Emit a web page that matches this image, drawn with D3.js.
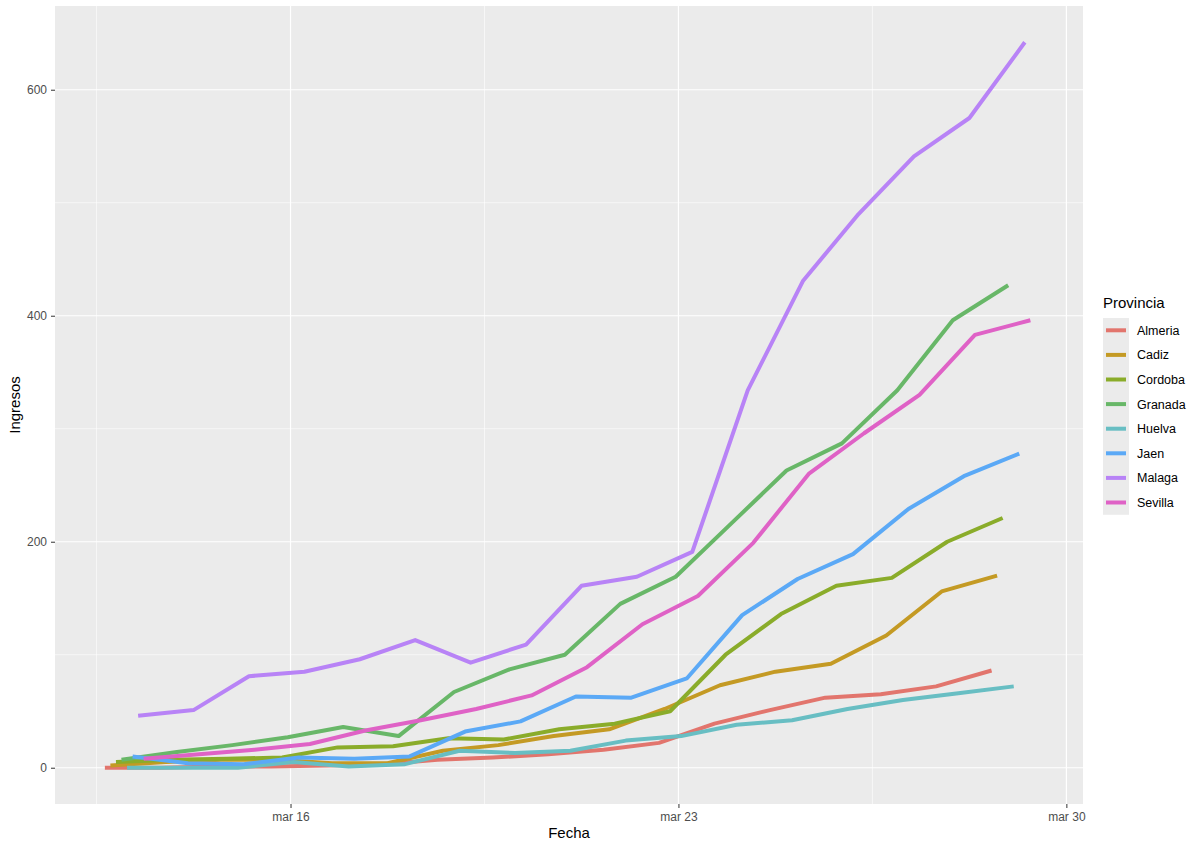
<!DOCTYPE html>
<html>
<head>
<meta charset="utf-8">
<script src="https://cdn.jsdelivr.net/npm/d3@7"></script>
<style>
  html, body { margin: 0; padding: 0; background: #fff; }
  svg { display: block; font-family: "Liberation Sans", Arial, Helvetica, sans-serif; }
</style>
</head>
<body>
<svg id="chart" width="1200" height="849"></svg>
<script>
// ---- data ----
const dates = ["2020-03-13","2020-03-14","2020-03-15","2020-03-16","2020-03-17","2020-03-18","2020-03-19","2020-03-20","2020-03-21","2020-03-22","2020-03-23","2020-03-24","2020-03-25","2020-03-26","2020-03-27","2020-03-28","2020-03-29"];
const provinces = ["Almeria","Cadiz","Cordoba","Granada","Huelva","Jaen","Malaga","Sevilla"];
const almeria = [0,0,1,1,2,3,7,9,12,16,22,39,51,62,65,72,86];
const cadiz   = [2,5,7,7,4,4,15,20,28,34,52,73,85,92,117,156,170];
const cordoba = [5,7,8,9,18,19,26,25,34,39,50,100,136,161,168,200,221];
const granada = [7,14,20,27,36,28,67,87,100,145,169,216,263,287,334,396,427];
const huelva  = [0,0,0,5,1,3,15,13,15,24,28,38,42,52,60,66,72];
const jaen    = [10,4,3,9,8,10,32,41,63,62,79,135,167,189,229,258,278];
const malaga  = [46,51,81,85,96,113,93,109,161,169,191,334,431,490,541,575,642];
const sevilla = [8,12,16,21,33,42,52,64,89,127,152,199,260,296,330,383,396];
const seriesValues = [almeria, cadiz, cordoba, granada, huelva, jaen, malaga, sevilla];
const colors = ["#E2756D","#C49A24","#8AAC2A","#68B768","#68BEC3","#5BA9F6","#B883F6","#DF62C6"];
const yTicks = [0, 200, 400, 600];
const yMinorTicks = [100, 300, 500];
const xTickDates = ["2020-03-16","2020-03-23","2020-03-30"];
const xTickLabels = ["mar 16","mar 23","mar 30"];
const xMinorDates = ["2020-03-12T12:00","2020-03-19T12:00","2020-03-26T12:00"];

// ---- layout ----
const P = { left: 55, right: 1083, top: 6, bottom: 804 };
const DAY = 86400000;
const parse = d3.utcParse("%Y-%m-%d");
const parseT = d3.utcParse("%Y-%m-%dT%H:%M");
const dateObjs = dates.map(parse);

const svg = d3.select("#chart");
svg.append("rect").attr("width", 1200).attr("height", 849).attr("fill", "#fff");

const x = d3.scaleUtc()
  .domain([new Date(+dateObjs[0] - 1.25 * DAY), new Date(+dateObjs[dateObjs.length - 1] + 1.3 * DAY)])
  .range([P.left, P.right]);
const maxV = d3.max(seriesValues, s => d3.max(s));
const pad = maxV * 0.05;
const y = d3.scaleLinear().domain([-pad, maxV + pad]).range([P.bottom, P.top]);

// panel
svg.append("rect").attr("x", P.left).attr("y", P.top)
  .attr("width", P.right - P.left).attr("height", P.bottom - P.top).attr("fill", "#EBEBEB");

const grid = svg.append("g");
// minor grid
grid.selectAll(".ymin").data(yMinorTicks).join("line")
  .attr("x1", P.left).attr("x2", P.right)
  .attr("y1", d => y(d)).attr("y2", d => y(d))
  .attr("stroke", "#fff").attr("stroke-width", 0.6);
grid.selectAll(".xmin").data(xMinorDates.map(parseT)).join("line")
  .attr("y1", P.top).attr("y2", P.bottom)
  .attr("x1", d => x(d)).attr("x2", d => x(d))
  .attr("stroke", "#fff").attr("stroke-width", 0.6);
// major grid
grid.selectAll(".ymaj").data(yTicks).join("line")
  .attr("x1", P.left).attr("x2", P.right)
  .attr("y1", d => y(d)).attr("y2", d => y(d))
  .attr("stroke", "#fff").attr("stroke-width", 1.2);
grid.selectAll(".xmaj").data(xTickDates.map(parse)).join("line")
  .attr("y1", P.top).attr("y2", P.bottom)
  .attr("x1", d => x(d)).attr("x2", d => x(d))
  .attr("stroke", "#fff").attr("stroke-width", 1.2);

// lines (dodged)
const n = provinces.length;
const dodge = 0.1 * DAY;
const line = d3.line().x(d => x(d.date)).y(d => y(d.v));
provinces.forEach((p, k) => {
  const off = (k - (n - 1) / 2) * dodge;
  const pts = seriesValues[k].map((v, i) => ({ date: new Date(+dateObjs[i] + off), v }));
  svg.append("path").datum(pts)
    .attr("d", line)
    .attr("fill", "none")
    .attr("stroke", colors[k])
    .attr("stroke-width", 4)
    .attr("stroke-linejoin", "round")
    .attr("stroke-linecap", "butt");
});

// axes
const xAxis = d3.axisBottom(x)
  .tickValues(xTickDates.map(parse))
  .tickFormat((d, i) => xTickLabels[i])
  .tickSize(4).tickPadding(4);
const gx = svg.append("g").attr("transform", `translate(0,${P.bottom})`).call(xAxis);
gx.select(".domain").remove();
gx.selectAll("line").attr("stroke", "#333").attr("stroke-width", 1);
gx.selectAll("text").attr("fill", "#4D4D4D").attr("font-size", 12).attr("font-family", "Liberation Sans, Arial, sans-serif");

const yAxis = d3.axisLeft(y).tickValues(yTicks).tickSize(4).tickPadding(4);
const gy = svg.append("g").attr("transform", `translate(${P.left},0)`).call(yAxis);
gy.select(".domain").remove();
gy.selectAll("line").attr("stroke", "#333").attr("stroke-width", 1);
gy.selectAll("text").attr("fill", "#4D4D4D").attr("font-size", 12).attr("font-family", "Liberation Sans, Arial, sans-serif");

// axis titles
svg.append("text").attr("x", (P.left + P.right) / 2).attr("y", 838)
  .attr("text-anchor", "middle").attr("font-size", 15).attr("fill", "#000").text("Fecha");
svg.append("text").attr("transform", `translate(20,${(P.top + P.bottom) / 2}) rotate(-90)`)
  .attr("text-anchor", "middle").attr("font-size", 15).attr("fill", "#000").text("Ingresos");

// legend
const lg = svg.append("g");
lg.append("text").attr("x", 1103).attr("y", 308).attr("font-size", 15).attr("fill", "#000").text("Provincia");
const rowH = 24.6;
const top0 = 318;
lg.append("rect").attr("x", 1103).attr("y", top0).attr("width", 26).attr("height", rowH * n).attr("fill", "#EBEBEB");
provinces.forEach((p, k) => {
  const cy = top0 + rowH * k + rowH / 2;
  lg.append("line").attr("x1", 1106).attr("x2", 1126).attr("y1", cy).attr("y2", cy)
    .attr("stroke", colors[k]).attr("stroke-width", 4);
  lg.append("text").attr("x", 1137).attr("y", cy + 4.5).attr("font-size", 12.5).attr("fill", "#000").text(p);
});
</script>
</body>
</html>
